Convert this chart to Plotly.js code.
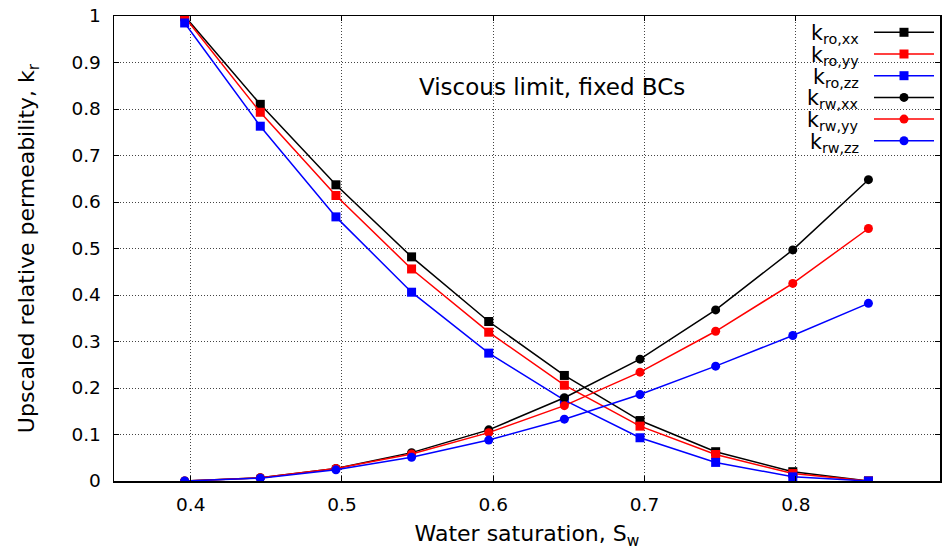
<!DOCTYPE html>
<html>
<head>
<meta charset="utf-8">
<script src="https://cdn.plot.ly/plotly-3.0.1.min.js"></script>
<style>html,body{margin:0;padding:0;background:#fff;}#plot{width:942px;height:552px;}</style>
</head>
<body>
<div id="plot"></div>
<script>
// Water saturation values
const sw = [0.396, 0.446, 0.496, 0.546, 0.597, 0.647, 0.697, 0.747, 0.798, 0.848];
// Oil relative permeabilities
const kroXX = [1.000, 0.810, 0.637, 0.482, 0.343, 0.227, 0.130, 0.063, 0.020, 0.000];
const kroYY = [0.998, 0.793, 0.614, 0.456, 0.320, 0.206, 0.118, 0.057, 0.016, 0.000];
const kroZZ = [0.985, 0.763, 0.568, 0.406, 0.275, 0.174, 0.093, 0.040, 0.009, 0.000];
// Water relative permeabilities
const krwXX = [0.000, 0.007, 0.027, 0.061, 0.110, 0.179, 0.262, 0.368, 0.497, 0.648];
const krwYY = [0.000, 0.007, 0.027, 0.058, 0.104, 0.162, 0.234, 0.322, 0.425, 0.543];
const krwZZ = [0.000, 0.006, 0.024, 0.051, 0.088, 0.133, 0.186, 0.247, 0.313, 0.382];

const names = ['k<sub>ro,xx</sub>','k<sub>ro,yy</sub>','k<sub>ro,zz</sub>','k<sub>rw,xx</sub>','k<sub>rw,yy</sub>','k<sub>rw,zz</sub>'];
const series = [kroXX, kroYY, kroZZ, krwXX, krwYY, krwZZ];
const colors = ['#000000','#ff0000','#0000ff','#000000','#ff0000','#0000ff'];
const symbols = ['square','square','square','circle','circle','circle'];
const xTicks = [0.4, 0.5, 0.6, 0.7, 0.8];
const yTicks = [0, 0.1, 0.2, 0.3, 0.4, 0.5, 0.6, 0.7, 0.8, 0.9, 1];

const FAM = 'DejaVu Sans, Liberation Sans, Arial, sans-serif';
const font = (s) => ({family: FAM, size: s, color: '#000'});

const traces = series.map((y, i) => ({
  x: sw, y: y, name: names[i], type: 'scatter', mode: 'lines+markers',
  showlegend: false,
  line: {color: colors[i], width: 1.5},
  marker: {color: colors[i], symbol: symbols[i], size: 9, line: {width: 0}}
}));

// Plot area geometry (pixels) for the hand-placed key
const W = 942, H = 552, ML = 114, MR = 2, MT = 16, MB = 71;
const PW = W - ML - MR, PH = H - MT - MB;
const px = (x) => (x - ML) / PW;
const py = (y) => (H - MB - y) / PH;

const annotations = [{
  text: 'Viscous limit, fixed BCs', xref: 'paper', yref: 'paper', x: px(552), y: py(87),
  xanchor: 'center', yanchor: 'middle', showarrow: false, font: font(23)
}];
const shapes = [];
names.forEach((nm, i) => {
  const ry = 32.3 + 21.7 * i;
  annotations.push({text: nm, xref: 'paper', yref: 'paper', x: px(861), y: py(ry + 2),
    xanchor: 'right', yanchor: 'middle', showarrow: false, font: font(20.5)});
  shapes.push({type: 'line', xref: 'paper', yref: 'paper', x0: px(874), x1: px(934), y0: py(ry), y1: py(ry),
    line: {color: colors[i], width: 1.5}});
  shapes.push({type: symbols[i] === 'square' ? 'rect' : 'circle', xref: 'paper', yref: 'paper',
    xsizemode: 'pixel', ysizemode: 'pixel', xanchor: px(904), yanchor: py(ry),
    x0: -4.5, x1: 4.5, y0: -4.5, y1: 4.5, fillcolor: colors[i], line: {width: 0}});
});

const axisCommon = {
  showgrid: true, gridcolor: '#444', griddash: '1px,2px', gridwidth: 1,
  zeroline: false, showline: true, linecolor: '#000', linewidth: 1.5, mirror: 'ticks',
  ticks: 'inside', ticklen: 5, tickcolor: '#000', tickwidth: 1,
  tickfont: font(18.5)
};

const layout = {
  width: W, height: H,
  margin: {l: ML, r: MR, t: MT, b: MB},
  paper_bgcolor: '#fff', plot_bgcolor: '#fff',
  font: font(18),
  showlegend: false,
  xaxis: Object.assign({}, axisCommon, {
    range: [0.3493, 0.8953], tickvals: xTicks, ticktext: xTicks.map(String),
    ticklabelstandoff: 6,
    title: {text: 'Water saturation, S<sub>w</sub>', font: font(22), standoff: 12}
  }),
  yaxis: Object.assign({}, axisCommon, {
    range: [0, 1], tickvals: yTicks, ticktext: yTicks.map(String),
    ticklabelstandoff: 8,
    title: {text: 'Upscaled relative permeability, k<sub>r</sub>', font: font(22), standoff: 30}
  }),
  annotations: annotations,
  shapes: shapes
};

Plotly.newPlot('plot', traces, layout, {displayModeBar: false, staticPlot: true});
</script>
</body>
</html>
